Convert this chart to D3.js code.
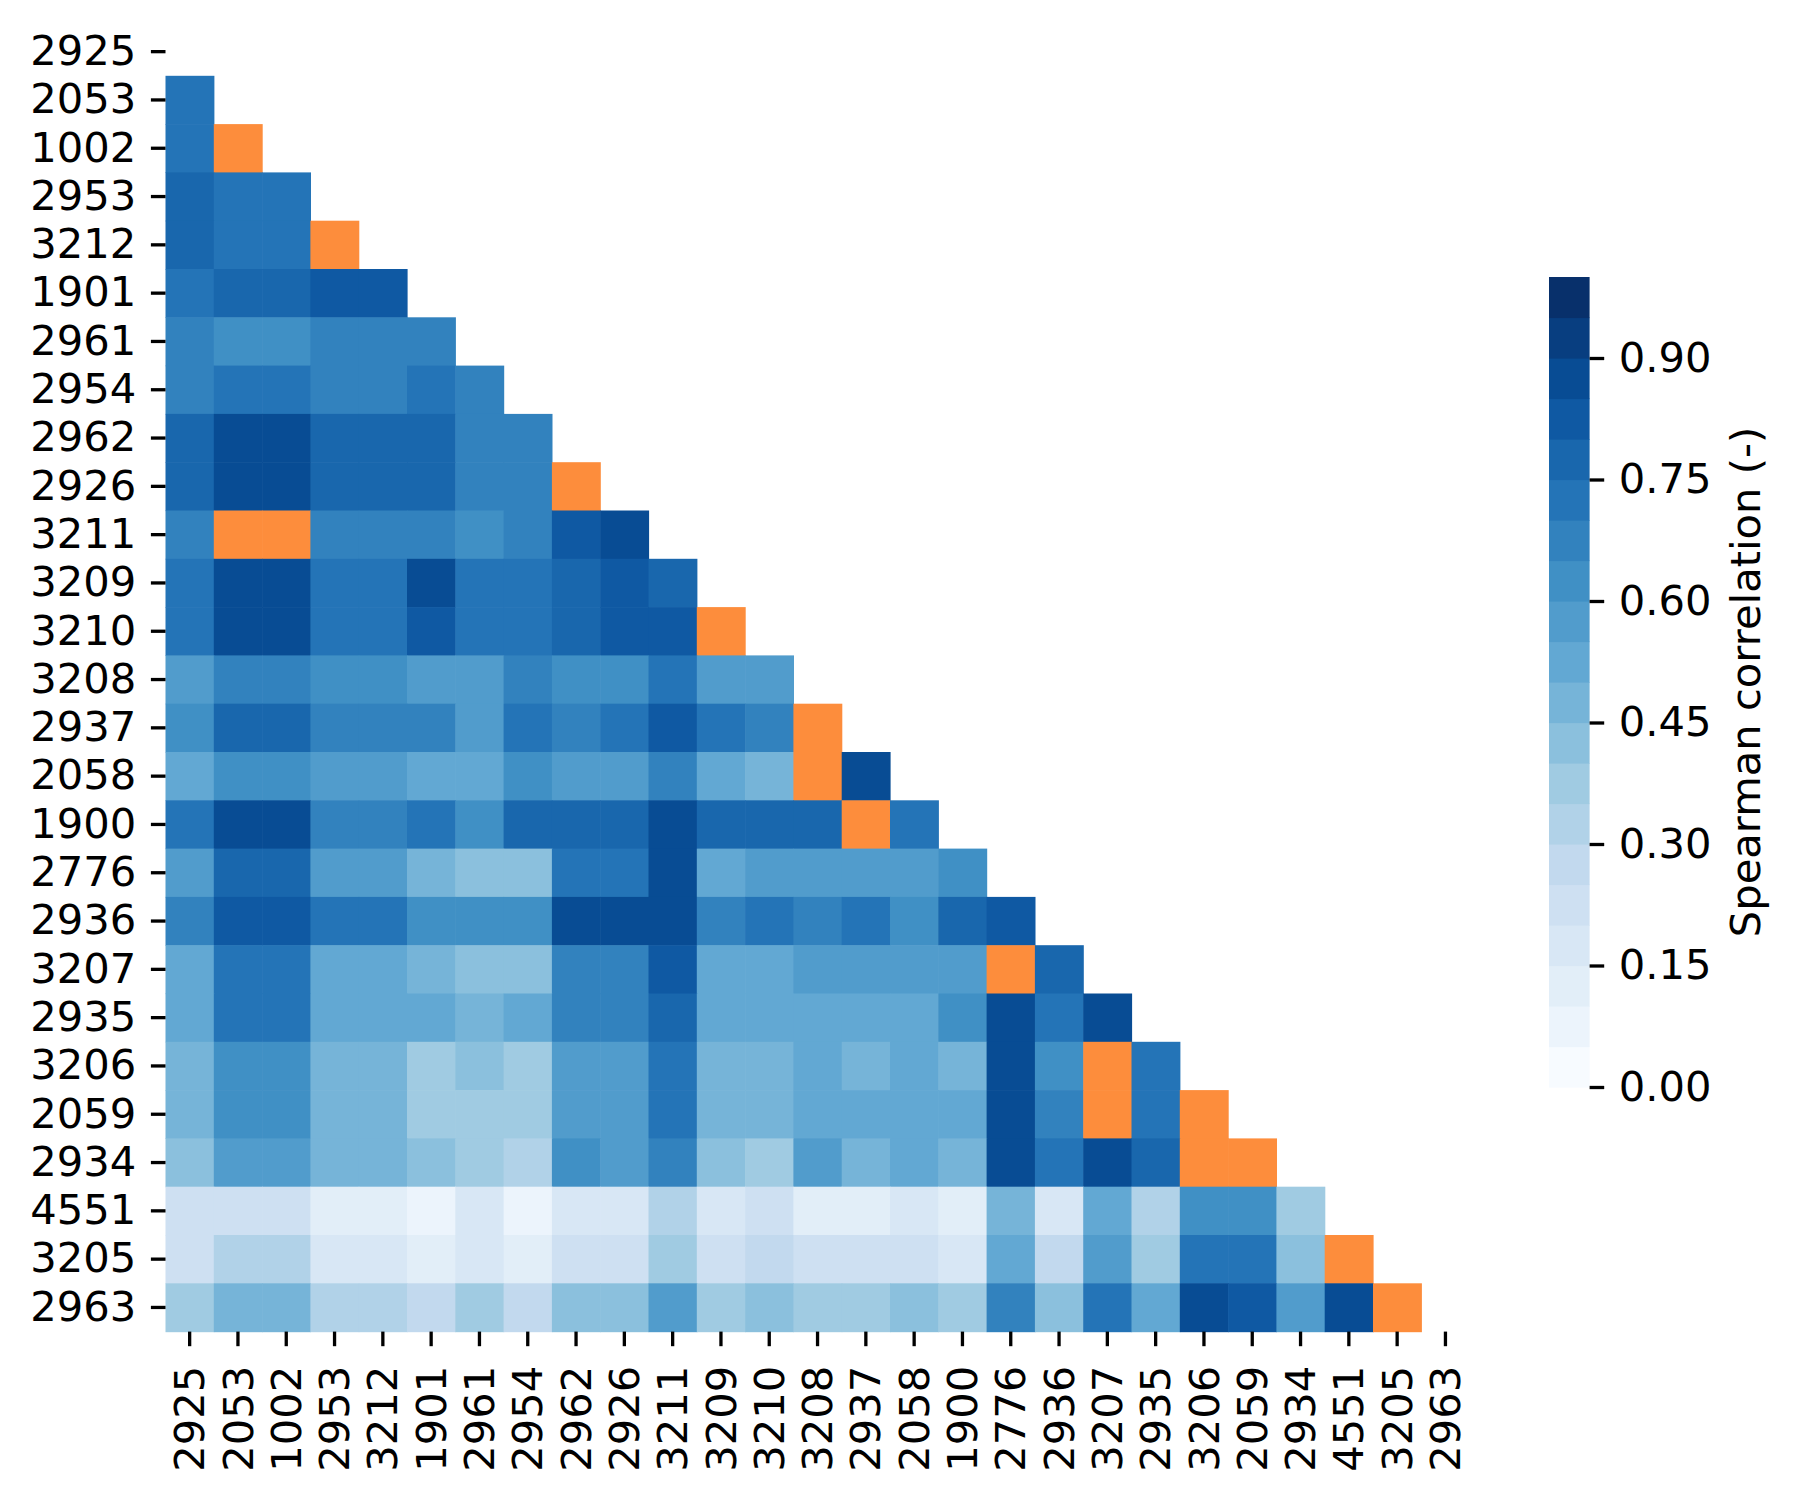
<!DOCTYPE html>
<html>
<head>
<meta charset="utf-8">
<script src="https://cdn.jsdelivr.net/npm/d3@7"></script>
<style>
  body { margin: 0; background: #fff; }
  text { font-family: "DejaVu Sans", sans-serif; }
</style>
</head>
<body>
<div id="viz"></div>
<script>
// station ids, same order on both axes
const stations = ['2925','2053','1002','2953','3212','1901','2961','2954','2962','2926',
                  '3211','3209','3210','3208','2937','2058','1900','2776','2936','3207',
                  '2935','3206','2059','2934','4551','3205','2963']

// lower triangle of the spearman matrix, row i has i values (null = orange cell)
const corr = [
  [],
  [0.72],
  [0.72, null],
  [0.77, 0.72, 0.72],
  [0.77, 0.72, 0.72, null],
  [0.72, 0.77, 0.77, 0.82, 0.82],
  [0.67, 0.62, 0.62, 0.67, 0.67, 0.67],
  [0.67, 0.72, 0.72, 0.67, 0.67, 0.72, 0.67],
  [0.77, 0.87, 0.87, 0.77, 0.77, 0.77, 0.67, 0.67],
  [0.77, 0.87, 0.87, 0.77, 0.77, 0.77, 0.67, 0.67, null],
  [0.67, null, null, 0.67, 0.67, 0.67, 0.62, 0.67, 0.82, 0.87],
  [0.72, 0.87, 0.87, 0.72, 0.72, 0.87, 0.72, 0.72, 0.77, 0.82, 0.77],
  [0.72, 0.87, 0.87, 0.72, 0.72, 0.82, 0.72, 0.72, 0.77, 0.82, 0.82, null],
  [0.57, 0.67, 0.67, 0.62, 0.62, 0.57, 0.57, 0.67, 0.62, 0.62, 0.72, 0.57, 0.57],
  [0.62, 0.77, 0.77, 0.67, 0.67, 0.67, 0.57, 0.72, 0.67, 0.72, 0.82, 0.72, 0.67, null],
  [0.52, 0.62, 0.62, 0.57, 0.57, 0.52, 0.52, 0.62, 0.57, 0.57, 0.67, 0.52, 0.47, null, 0.87],
  [0.72, 0.87, 0.87, 0.67, 0.67, 0.72, 0.62, 0.77, 0.77, 0.77, 0.87, 0.77, 0.77, 0.77, null, 0.72],
  [0.57, 0.77, 0.77, 0.57, 0.57, 0.47, 0.42, 0.42, 0.72, 0.72, 0.87, 0.52, 0.57, 0.57, 0.57, 0.57, 0.62],
  [0.67, 0.82, 0.82, 0.72, 0.72, 0.62, 0.62, 0.62, 0.87, 0.87, 0.87, 0.67, 0.72, 0.67, 0.72, 0.62, 0.77, 0.82],
  [0.52, 0.72, 0.72, 0.52, 0.52, 0.47, 0.42, 0.42, 0.67, 0.67, 0.82, 0.52, 0.52, 0.57, 0.57, 0.57, 0.57, null, 0.77],
  [0.52, 0.72, 0.72, 0.52, 0.52, 0.52, 0.47, 0.52, 0.67, 0.67, 0.77, 0.52, 0.52, 0.52, 0.52, 0.52, 0.62, 0.87, 0.72, 0.87],
  [0.47, 0.62, 0.62, 0.47, 0.47, 0.37, 0.42, 0.37, 0.57, 0.57, 0.72, 0.47, 0.47, 0.52, 0.47, 0.52, 0.47, 0.87, 0.62, null, 0.72],
  [0.47, 0.62, 0.62, 0.47, 0.47, 0.37, 0.37, 0.37, 0.57, 0.57, 0.72, 0.47, 0.47, 0.52, 0.52, 0.52, 0.52, 0.87, 0.67, null, 0.72, null],
  [0.42, 0.57, 0.57, 0.47, 0.47, 0.42, 0.37, 0.32, 0.62, 0.57, 0.67, 0.42, 0.37, 0.57, 0.47, 0.52, 0.47, 0.87, 0.72, 0.87, 0.77, null, null],
  [0.22, 0.22, 0.22, 0.12, 0.12, 0.07, 0.17, 0.07, 0.17, 0.17, 0.32, 0.17, 0.22, 0.12, 0.12, 0.17, 0.12, 0.47, 0.17, 0.52, 0.32, 0.62, 0.62, 0.37],
  [0.22, 0.32, 0.32, 0.17, 0.17, 0.12, 0.17, 0.12, 0.22, 0.22, 0.37, 0.22, 0.27, 0.22, 0.22, 0.22, 0.17, 0.52, 0.27, 0.57, 0.37, 0.72, 0.72, 0.42, null],
  [0.37, 0.47, 0.47, 0.32, 0.32, 0.27, 0.37, 0.27, 0.42, 0.42, 0.57, 0.37, 0.42, 0.37, 0.37, 0.42, 0.37, 0.67, 0.42, 0.72, 0.52, 0.87, 0.82, 0.57, 0.87, null]
]

const cbarTicks = [0, 0.15, 0.30, 0.45, 0.60, 0.75, 0.90]

let width = 1797,
    height = 1497

const fs = 41.67,      // 10pt at 300 dpi
      tick = 14.6,
      hmLeft = 165.5, hmTop = 27.5, side = 48.3 * stations.length

// flatten the triangle into cells
let cells = []
corr.forEach((row, i) => {
  row.forEach((v, j) => {
    cells.push({ row: stations[i], col: stations[j], value: v })
  })
})

// matplotlib-like Blues (linear between the 9 brewer colours), cut in 20 levels
let blues = d3.scaleLinear()
              .domain(d3.range(9).map(i => i / 8))
              .range(d3.schemeBlues[9])
              .interpolate(d3.interpolateRgb)
let cScale = d3.scaleQuantize()
               .domain([0, 1])
               .range(d3.range(20).map(i => blues(i / 19)))

let xScale = d3.scaleBand()
               .domain(stations)
               .range([hmLeft, hmLeft + side])

let yScale = d3.scaleBand()
               .domain(stations)
               .range([hmTop, hmTop + side])

let svg = d3.select('#viz')
            .append('svg')
            .attr('width', width)
            .attr('height', height)
            .style('background', '#fff')

svg.append('g')
   .selectAll('rect')
   .data(cells)
   .enter()
     .append('rect')
     .attr('x', d => xScale(d.col))
     .attr('y', d => yScale(d.row))
     .attr('width', xScale.bandwidth() + 0.6)
     .attr('height', yScale.bandwidth() + 0.6)
     .style('fill', d => d.value === null ? '#fd8d3c' : cScale(d.value))

// axes
let xAxis = svg.append('g')
               .attr('transform', `translate(0,${hmTop + side})`)
               .call(d3.axisBottom(xScale).tickSize(tick).tickPadding(tick))
xAxis.selectAll('text')
     .attr('transform', 'rotate(-90)')
     .attr('x', -2 * tick - 5)
     .attr('y', 0)
     .attr('dy', '0.35em')
     .style('text-anchor', 'end')

let yAxis = svg.append('g')
               .attr('transform', `translate(${hmLeft},0)`)
               .call(d3.axisLeft(yScale).tickSize(tick).tickPadding(tick))

// colorbar
const cbX = 1549, cbW = 40.6, cbTop = 277, cbBottom = 1087
let cbScale = d3.scaleLinear()
                .domain([0, 1])
                .range([cbBottom, cbTop])

let levels = d3.range(20).map(i => i / 20)
svg.append('g')
   .selectAll('rect')
   .data(levels)
   .enter()
     .append('rect')
     .attr('x', cbX)
     .attr('y', d => cbScale(d + 0.05))
     .attr('width', cbW)
     .attr('height', d => cbScale(d) - cbScale(d + 0.05) + 0.6)
     .style('fill', d => cScale(d + 0.025))

let cbAxis = svg.append('g')
                .attr('transform', `translate(${cbX + cbW},0)`)
                .call(d3.axisRight(cbScale)
                        .tickValues(cbarTicks)
                        .tickFormat(d3.format('.2f'))
                        .tickSize(tick)
                        .tickPadding(tick))

svg.selectAll('.domain').remove()
svg.selectAll('.tick line')
   .attr('stroke', '#000')
   .attr('stroke-width', 3.3)
svg.selectAll('.tick text')
   .attr('fill', '#000')
   .style('font-size', fs + 'px')
   .style('font-family', '"DejaVu Sans", sans-serif')

svg.append('text')
   .attr('transform', `translate(1760,${(cbTop + cbBottom) / 2}) rotate(-90)`)
   .attr('text-anchor', 'middle')
   .style('font-size', fs + 'px')
   .text('Spearman correlation (-)')
</script>
</body>
</html>
